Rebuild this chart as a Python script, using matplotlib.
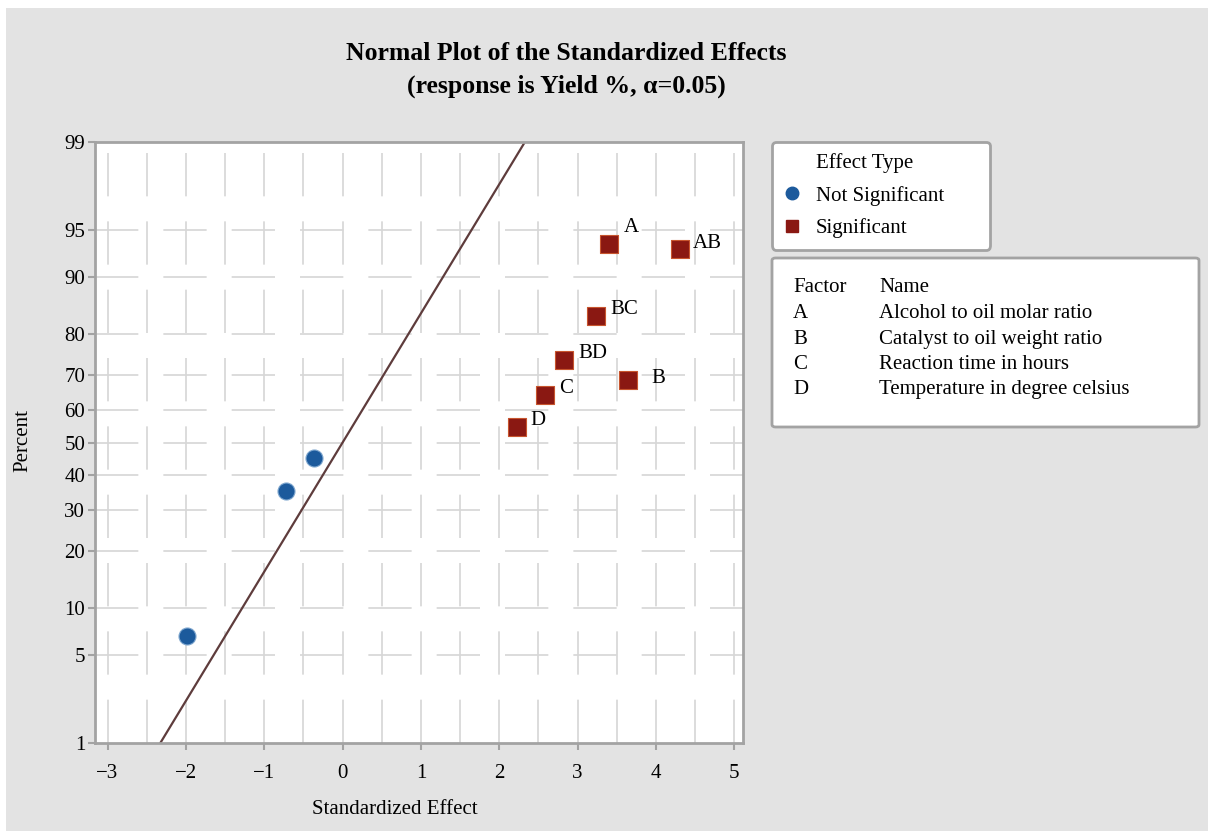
import math
import numpy as np
import matplotlib.pyplot as plt
from matplotlib.patches import Rectangle, FancyBboxPatch
from matplotlib.lines import Line2D
from matplotlib.ticker import FixedLocator, MultipleLocator

plt.rcParams["font.family"] = ["Liberation Serif", "DejaVu Serif"]

# standardized effects and their normal-plot percentages
sig_terms = ["D", "C", "BD", "B", "BC", "A", "AB"]
sig_effect = [2.22, 2.58, 2.83, 3.64, 3.24, 3.40, 4.31]
sig_percent = [54.8, 64.3, 73.8, 68.6, 83.6, 93.8, 93.3]

nonsig_effect = [-1.99, -0.72, -0.37]
nonsig_percent = [6.7, 35.3, 45.1]

percent_ticks = [1, 5, 10, 20, 30, 40, 50, 60, 70, 80, 90, 95, 99]
effect_ticks = [-3, -2, -1, 0, 1, 2, 3, 4, 5]

factors = ["A", "B", "C", "D"]
factor_names = [
    "Alcohol to oil molar ratio",
    "Catalyst to oil weight ratio",
    "Reaction time in hours",
    "Temperature in degree celsius",
]

BLUE = "#1c5a9c"
RED = "#8a1812"
FRAME = "#a3a3a3"
GRID = "#d6d6d6"
BG = "#e3e3e3"
FS = 15

_erf = np.vectorize(math.erf)


def norm_ppf(q):
    """Inverse normal CDF (Acklam's rational approximation)."""
    q = np.clip(np.asarray(q, dtype=float), 1e-10, 1 - 1e-10)
    a = [-3.969683028665376e01, 2.209460984245205e02, -2.759285104469687e02,
         1.383577518672690e02, -3.066479806614716e01, 2.506628277459239e00]
    b = [-5.447609879822406e01, 1.615858368580409e02, -1.556989798598866e02,
         6.680131188771972e01, -1.328068155288572e01]
    c = [-7.784894002430293e-03, -3.223964580411365e-01, -2.400758277161838e00,
         -2.549732539343734e00, 4.374664141464968e00, 2.938163982698783e00]
    d = [7.784695709041462e-03, 3.224671290700398e-01, 2.445134137142996e00,
         3.754408661907416e00]
    lo, hi = 0.02425, 1 - 0.02425
    out = np.empty_like(q)
    m = q < lo
    r = np.sqrt(-2 * np.log(q[m]))
    out[m] = (((((c[0]*r+c[1])*r+c[2])*r+c[3])*r+c[4])*r+c[5]) / \
        ((((d[0]*r+d[1])*r+d[2])*r+d[3])*r+1)
    m = q > hi
    r = np.sqrt(-2 * np.log(1 - q[m]))
    out[m] = -(((((c[0]*r+c[1])*r+c[2])*r+c[3])*r+c[4])*r+c[5]) / \
        ((((d[0]*r+d[1])*r+d[2])*r+d[3])*r+1)
    m = (q >= lo) & (q <= hi)
    s = q[m] - 0.5
    r = s * s
    out[m] = (((((a[0]*r+a[1])*r+a[2])*r+a[3])*r+a[4])*r+a[5])*s / \
        (((((b[0]*r+b[1])*r+b[2])*r+b[3])*r+b[4])*r+1)
    return out


def pct_to_z(p):
    return norm_ppf(np.asarray(p, dtype=float) / 100.0)


def z_to_pct(z):
    return 50.0 * (1.0 + _erf(np.asarray(z, dtype=float) / math.sqrt(2)))


W, H = 1208, 831
fig = plt.figure(figsize=(W / 100, H / 100), dpi=100)
fig.patch.set_facecolor("white")
fig.patches.append(Rectangle((6 / W, 0), 1, 1 - 8 / H, transform=fig.transFigure,
                             facecolor=BG, edgecolor="none", zorder=-10))

ax = fig.add_axes([95 / W, 1 - 743 / H, (743 - 95) / W, (743 - 142) / H])
ax.set_facecolor("white")
ax.set_yscale("function", functions=(pct_to_z, z_to_pct))
ax.set_xlim(-3.16, 5.11)
ax.set_ylim(1, 99)

ax.yaxis.set_major_locator(FixedLocator(percent_ticks))
ax.set_yticklabels([str(t) for t in percent_ticks])
ax.yaxis.set_minor_locator(FixedLocator([]))
ax.xaxis.set_major_locator(FixedLocator(effect_ticks))
ax.set_xticklabels([str(t).replace("-", "\u2212") for t in effect_ticks])
ax.xaxis.set_minor_locator(MultipleLocator(0.5))
ax.tick_params(which="major", direction="out", length=5, width=1.5,
               color=FRAME, labelsize=FS)
ax.tick_params(axis="y", pad=2)
ax.tick_params(axis="x", pad=10)
ax.tick_params(which="minor", length=0)

for sp in ax.spines.values():
    sp.set_color(FRAME)
    sp.set_linewidth(2.0)

# broken grid lines
dash = (0, (26, 15))
for xv in np.arange(-3, 5.01, 0.5):
    ax.axvline(xv, color=GRID, lw=1.2, ls=dash, zorder=0)
for yv in percent_ticks[1:-1]:
    ax.axhline(yv, color=GRID, lw=1.2, ls=dash, zorder=0)

# reference line for standardized effects (z = effect)
zline = np.linspace(-3.16, 5.11, 200)
ax.plot(zline, z_to_pct(zline), color="#5e3c3c", lw=1.6, zorder=2)

ax.scatter(nonsig_effect, nonsig_percent, s=150, marker="o", color=BLUE,
           edgecolors="#7fa7cf", linewidths=0.8, zorder=3)
ax.scatter(sig_effect, sig_percent, s=150, marker="s", color=RED,
           edgecolors="#c8552e", linewidths=0.8, zorder=3)

label_offset = {"A": (11, 12), "B": (17, 1), "AB": (9, 4)}
for term, xv, yv in zip(sig_terms, sig_effect, sig_percent):
    ax.annotate(term, (xv, yv), xytext=label_offset.get(term, (10, 4.5)),
                textcoords="offset points", ha="left", va="center", fontsize=FS)

fig.text(566 / W, 1 - 53 / H, "Normal Plot of the Standardized Effects",
         ha="center", va="center", fontsize=18.5, fontweight="bold")
fig.text(566 / W, 1 - 86 / H, "(response is Yield %, \u03b1=0.05)",
         ha="center", va="center", fontsize=18.5, fontweight="bold")
fig.text(395 / W, 1 - 810 / H, "Standardized Effect", ha="center",
         va="center", fontsize=FS)
fig.text(23 / W, 1 - 440 / H, "Percent", ha="center", va="center",
         rotation=90, fontsize=FS)

# effect type legend
handles = [
    Line2D([], [], linestyle="none", label="Effect Type"),
    Line2D([], [], linestyle="none", marker="o", markersize=9,
           color=BLUE, label="Not Significant"),
    Line2D([], [], linestyle="none", marker="s", markersize=9,
           color=RED, label="Significant"),
]
leg = fig.legend(handles=handles, loc="upper left",
                 bbox_to_anchor=(772 / W, 1 - 142 / H, (990 - 772) / W, 0),
                 mode="expand", frameon=True, fancybox=True, fontsize=FS,
                 handlelength=0.8, handletextpad=0.75, labelspacing=0.6,
                 borderpad=0.55, borderaxespad=0, framealpha=1)
leg.get_frame().set_edgecolor(FRAME)
leg.get_frame().set_linewidth(2.0)
leg.get_frame().set_facecolor("white")

# factor key
fig.patches.append(FancyBboxPatch((772 / W, 1 - 427 / H), (1199 - 772) / W,
                                  (427 - 258) / H, boxstyle="round,pad=0,rounding_size=0.003",
                                  transform=fig.transFigure, facecolor="white",
                                  edgecolor=FRAME, linewidth=2.0, zorder=1))
fig.text(793 / W, 1 - 288 / H, "Factor", va="center", fontsize=FS)
fig.text(879 / W, 1 - 288 / H, "Name", va="center", fontsize=FS)
for i, (f, name) in enumerate(zip(factors, factor_names)):
    y = 1 - (314 + 25.3 * i) / H
    fig.text(793 / W, y, f, va="center", fontsize=FS)
    fig.text(879 / W, y, name, va="center", fontsize=FS)

fig.savefig("out.png", dpi=100)
